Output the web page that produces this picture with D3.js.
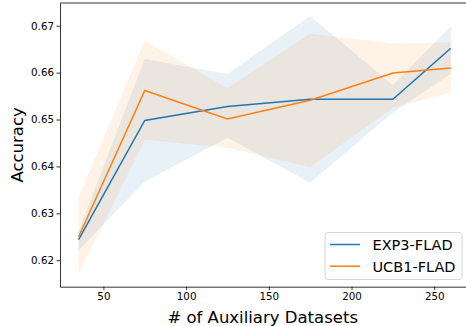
<!DOCTYPE html>
<html>
<head>
<meta charset="utf-8">
<script src="https://cdn.jsdelivr.net/npm/d3@7"></script>
<style>
    body { margin: 0; background: #fff; }
    svg { display: block; font-family: "DejaVu Sans", sans-serif; }
    .axis text { font-size: 10.3px; fill: #000; font-family: "DejaVu Sans", sans-serif; }
    .axis path, .axis line { stroke: #000; stroke-width: 0.8; }
</style>
</head>
<body>
<script>
const w = 466, h = 326;

// number of auxiliary datasets
const datasets = [35, 75, 125, 175, 225, 260];

// EXP3-FLAD: mean and shaded band
const exp3Mean = [0.6244, 0.6498, 0.6528, 0.6543, 0.6543, 0.6652];
const exp3Low = [0.6221, 0.6368, 0.6461, 0.6365, 0.6515, 0.6597];
const exp3High = [0.6261, 0.6629, 0.6597, 0.6721, 0.6573, 0.6699];

// UCB1-FLAD: mean and shaded band
const ucb1Mean = [0.6250, 0.6562, 0.6501, 0.6541, 0.6599, 0.6610];
const ucb1Low = [0.6171, 0.6457, 0.6440, 0.6399, 0.6525, 0.6557];
const ucb1High = [0.6335, 0.6668, 0.6567, 0.6683, 0.6662, 0.6664];

const xTicks = [50, 100, 150, 200, 250];
const yTicks = [0.62, 0.63, 0.64, 0.65, 0.66, 0.67];

const seriesNames = ["EXP3-FLAD", "UCB1-FLAD"];
const colors = ["#1f77b4", "#ff7f0e"];

function toRows(mean, low, high) {
    return datasets.map(function (d, i) {
        return { x: d, mean: mean[i], low: low[i], high: high[i] };
    });
}
const series = [
    toRows(exp3Mean, exp3Low, exp3High),
    toRows(ucb1Mean, ucb1Low, ucb1High)
];

// plot box (right edge falls just outside the picture, as in the original)
const plotLeft = 60, plotRight = 469.4, plotTop = 3, plotBottom = 286.7;

let xScale = d3.scaleLinear()
    .domain([23.75, 271.25])
    .range([plotLeft, plotRight]);
let yScale = d3.scaleLinear()
    .domain([0.61435, 0.67485])
    .range([plotBottom, plotTop]);

var svg = d3.select("body")
    .append("svg")
    .attr("width", w)
    .attr("height", h);

//bands
const area = d3.area()
    .x(function (d) { return xScale(d.x) })
    .y0(function (d) { return yScale(d.low) })
    .y1(function (d) { return yScale(d.high) });
series.forEach(function (rows, i) {
    svg.append("path")
        .datum(rows)
        .attr("d", area)
        .attr("fill", colors[i])
        .attr("fill-opacity", 0.1);
});

//lines
const line = d3.line()
    .x(function (d) { return xScale(d.x) })
    .y(function (d) { return yScale(d.mean) });
series.forEach(function (rows, i) {
    svg.append("path")
        .datum(rows)
        .attr("d", line)
        .attr("fill", "none")
        .attr("stroke", colors[i])
        .attr("stroke-width", 1.5);
});

//axes
svg.append("g")
    .attr("class", "axis")
    .attr("transform", "translate(0," + plotBottom + ")")
    .call(d3.axisBottom(xScale).tickValues(xTicks).tickSize(3.5).tickSizeOuter(0).tickPadding(2.5));
svg.append("g")
    .attr("class", "axis")
    .attr("transform", "translate(" + plotLeft + ",0)")
    .call(d3.axisLeft(yScale).tickValues(yTicks).tickFormat(d3.format(".2f"))
        .tickSize(3.5).tickSizeOuter(0).tickPadding(2.5));
// top spine
svg.append("line")
    .attr("x1", plotLeft).attr("x2", plotRight)
    .attr("y1", plotTop).attr("y2", plotTop)
    .attr("stroke", "#000")
    .attr("stroke-width", 0.8);

//axis titles
svg.append("text")
    .attr("x", (plotLeft + plotRight) / 2 - 2)
    .attr("y", 322.5)
    .attr("text-anchor", "middle")
    .attr("font-size", "16.5px")
    .text("# of Auxiliary Datasets");
svg.append("text")
    .attr("transform", "translate(23," + ((plotTop + plotBottom) / 2) + ") rotate(-90)")
    .attr("text-anchor", "middle")
    .attr("font-size", "16.5px")
    .text("Accuracy");

//legend
const legend = svg.append("g").attr("transform", "translate(325,232.5)");
legend.append("rect")
    .attr("width", 137)
    .attr("height", 47)
    .attr("rx", 3)
    .attr("fill", "#fff")
    .attr("fill-opacity", 0.8)
    .attr("stroke", "#ccc")
    .attr("stroke-width", 0.8);
seriesNames.forEach(function (name, i) {
    legend.append("line")
        .attr("x1", 5).attr("x2", 35)
        .attr("y1", 12 + i * 21.7).attr("y2", 12 + i * 21.7)
        .attr("stroke", colors[i])
        .attr("stroke-width", 1.5);
    legend.append("text")
        .attr("x", 47.5)
        .attr("y", 17.5 + i * 21.7)
        .attr("font-size", "14.5px")
        .text(name);
});
</script>
</body>
</html>
